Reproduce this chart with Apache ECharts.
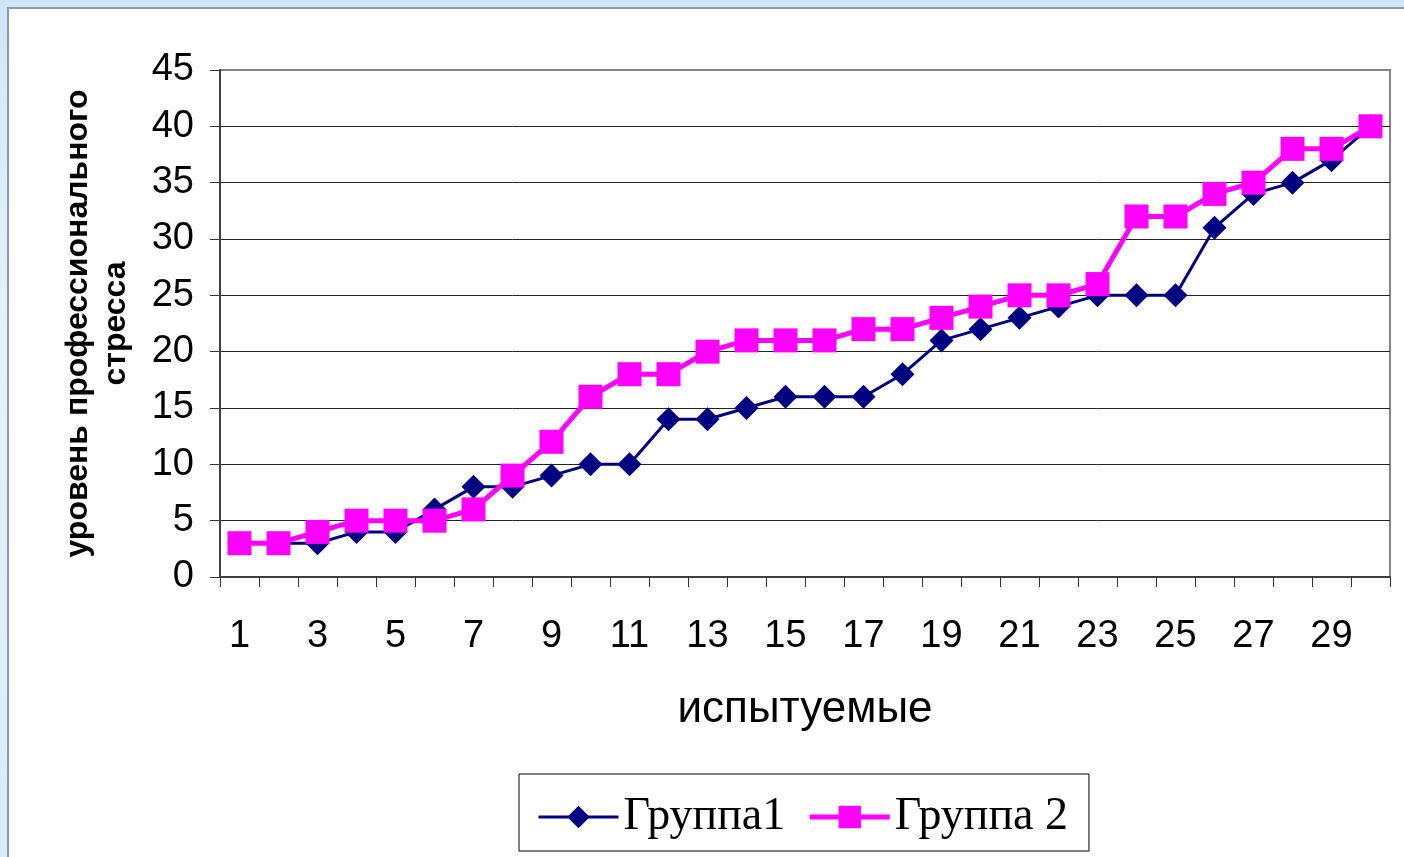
<!DOCTYPE html>
<html>
<head>
<meta charset="utf-8">
<script src="https://cdn.jsdelivr.net/npm/echarts@6/dist/echarts.min.js"></script>
<style>
  html, body { margin: 0; padding: 0; width: 1404px; height: 857px; overflow: hidden;
    background: linear-gradient(180deg, #cfe6f9 0%, #e6f2fc 40%, #d8ebfb 100%); }
  #panel { position: absolute; left: 7px; top: 7px; right: 0; bottom: 0; background: #fff;
    border-left: 2px solid #8c9bab; border-top: 2px solid #8c9bab; }
  #chart { position: absolute; left: 0; top: 0; width: 1404px; height: 857px; }
</style>
</head>
<body>
<div id="panel"></div>
<div id="chart"></div>
<script>
const categories = ['1','2','3','4','5','6','7','8','9','10','11','12','13','14','15','16','17','18','19','20','21','22','23','24','25','26','27','28','29','30'];
const group1 = [3,3,3,4,4,6,8,8,9,10,10,14,14,15,16,16,16,18,21,22,23,24,25,25,25,31,34,35,37,40];
const group2 = [3,3,4,5,5,5,6,9,12,16,18,18,20,21,21,21,22,22,23,24,25,25,26,32,32,34,35,38,38,40];
const seriesNames = ['Группа1', 'Группа 2'];
const xAxisTitle = 'испытуемые';
const yAxisTitle = 'уровень профессионального\nстресса';
const yMin = 0, yMax = 45, yStep = 5;

const chart = echarts.init(document.getElementById('chart'), null, { renderer: 'canvas' });
const sans = '"Liberation Sans", Arial, sans-serif';
chart.setOption({
  backgroundColor: 'transparent',
  animation: false,
  grid: { left: 220, top: 70, right: 14, bottom: 280, show: true, borderColor: '#858585', borderWidth: 2, backgroundColor: 'transparent' },
  legend: {
    left: 519, top: 774,
    padding: [20, 21, 11, 18],
    borderColor: '#000', borderWidth: 1,
    itemWidth: 80, itemHeight: 28, itemGap: 22,
    textStyle: { fontFamily: '"Liberation Serif", "Times New Roman", serif', fontSize: 46, color: '#000' },
    data: [
      { name: seriesNames[0], lineStyle: { width: 3, color: '#000080' } },
      { name: seriesNames[1], lineStyle: { width: 5, color: '#ff00ff' } }
    ]
  },
  xAxis: {
    type: 'category', data: categories, boundaryGap: true,
    name: xAxisTitle, nameLocation: 'middle', nameGap: 111,
    nameTextStyle: { fontFamily: sans, fontSize: 44, color: '#000' },
    axisLine: { lineStyle: { color: '#404040', width: 2 } },
    axisTick: { show: true, interval: 0, length: 10, lineStyle: { color: '#333', width: 1 } },
    axisLabel: { interval: 1, fontFamily: sans, fontSize: 38, color: '#000', margin: 41 },
    splitLine: { show: false }
  },
  yAxis: {
    type: 'value', min: yMin, max: yMax, interval: yStep,
    name: yAxisTitle, nameLocation: 'middle', nameRotate: 90, nameGap: 85,
    nameTextStyle: { fontFamily: sans, fontWeight: 'bold', fontSize: 32, lineHeight: 38, color: '#000', align: 'center' },
    axisLine: { show: true, lineStyle: { color: '#404040', width: 2 } },
    axisTick: { show: true, length: 10, lineStyle: { color: '#333', width: 1 } },
    axisLabel: { fontFamily: sans, fontSize: 38, color: '#000', margin: 26 },
    splitLine: { show: true, lineStyle: { color: ['#222','#222','#222','#222','#222','#222','#222','#222','#222','#858585'], width: 1 } }
  },
  series: [
    {
      name: seriesNames[0], type: 'line', data: group1,
      symbol: 'diamond', symbolSize: 24,
      lineStyle: { color: '#000080', width: 3 },
      itemStyle: { color: '#000080' },
      z: 3
    },
    {
      name: seriesNames[1], type: 'line', data: group2,
      symbol: 'rect', symbolSize: 24,
      lineStyle: { color: '#ff00ff', width: 5 },
      itemStyle: { color: '#ff00ff' },
      z: 4
    }
  ]
});
</script>
</body>
</html>
